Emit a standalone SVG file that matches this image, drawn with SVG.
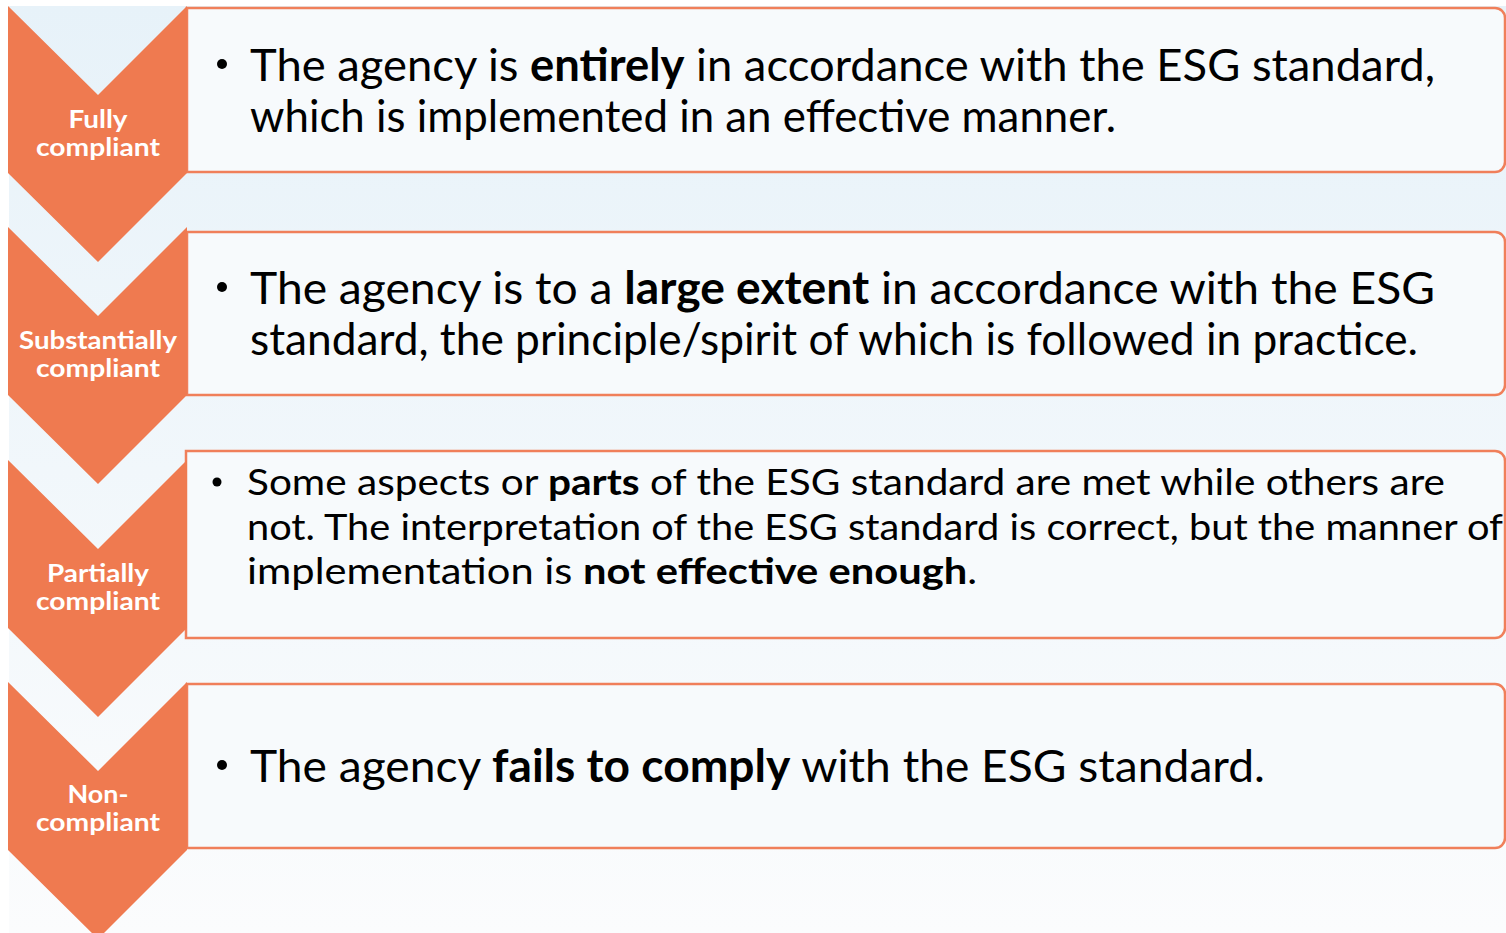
<svg xmlns="http://www.w3.org/2000/svg" width="1506" height="933" viewBox="0 0 1506 933">
<defs>
<linearGradient id="bg" x1="0" y1="0" x2="0" y2="1">
<stop offset="0" stop-color="#e7f2f9"/>
<stop offset="1" stop-color="#fbfcfd"/>
</linearGradient>
<style>
.chev{fill:#ef7a50;}
.box{fill:#f7fafc;stroke:#f07f5a;stroke-width:2.5;}
.lbl{font-family:"Lato","Open Sans",sans-serif;font-weight:700;font-size:24px;fill:#ffffff;text-anchor:middle;}
.t{font-family:"Lato","Open Sans",sans-serif;font-size:45px;fill:#000000;}
.s{font-family:"Lato","Open Sans",sans-serif;font-size:37px;fill:#000000;}
.b{font-weight:700;}
</style>
</defs>
<rect x="0" y="0" width="1506" height="933" fill="#ffffff"/>
<rect x="9" y="6" width="1497" height="927" fill="url(#bg)"/>
<g id="connectors"></g>
<g id="row1">
<path class="box" d="M187,8 H1495 A10,10 0 0 1 1505,18 V162 A10,10 0 0 1 1495,172 H187 Z"/>
<polygon class="chev" points="8,6 98,95 187,6 187,173 98,262 8,173"/>
<text class="lbl" x="98" y="128" textLength="59" lengthAdjust="spacingAndGlyphs">Fully</text>
<text class="lbl" x="98" y="156" textLength="124" lengthAdjust="spacingAndGlyphs">compliant</text>
<circle cx="222" cy="64" r="5"/>
<text class="t" x="250" y="81" textLength="1185" lengthAdjust="spacingAndGlyphs">The agency is <tspan class="b">entirely</tspan> in accordance with the ESG standard,</text>
<text class="t" x="250" y="132" textLength="866" lengthAdjust="spacingAndGlyphs">which is implemented in an effective manner.</text>
</g>
<g id="row2">
<path class="box" d="M187,232 H1495 A10,10 0 0 1 1505,242 V385 A10,10 0 0 1 1495,395 H187 Z"/>
<polygon class="chev" points="8,227 98,316 187,227 187,395 98,484 8,395"/>
<text class="lbl" x="98" y="349" textLength="158" lengthAdjust="spacingAndGlyphs">Substantially</text>
<text class="lbl" x="98" y="377" textLength="124" lengthAdjust="spacingAndGlyphs">compliant</text>
<circle cx="222" cy="287" r="5"/>
<text class="t" x="250" y="304" textLength="1185" lengthAdjust="spacingAndGlyphs">The agency is to a <tspan class="b">large extent</tspan> in accordance with the ESG</text>
<text class="t" x="250" y="355" textLength="1168" lengthAdjust="spacingAndGlyphs">standard, the principle/spirit of which is followed in practice.</text>
</g>
<g id="row3">
<path class="box" d="M186,451 H1495 A10,10 0 0 1 1505,461 V628 A10,10 0 0 1 1495,638 H186 Z"/>
<polygon class="chev" points="8,460 98,549 187,460 187,628 98,717 8,628"/>
<text class="lbl" x="98" y="582" textLength="102" lengthAdjust="spacingAndGlyphs">Partially</text>
<text class="lbl" x="98" y="610" textLength="124" lengthAdjust="spacingAndGlyphs">compliant</text>
<circle cx="217" cy="482" r="4.5"/>
<text class="s" x="247" y="495" textLength="1198" lengthAdjust="spacingAndGlyphs">Some aspects or <tspan class="b">parts</tspan> of the ESG standard are met while others are</text>
<text class="s" x="247" y="540" textLength="1256" lengthAdjust="spacingAndGlyphs">not. The interpretation of the ESG standard is correct, but the manner of</text>
<text class="s" x="247" y="584" textLength="730" lengthAdjust="spacingAndGlyphs">implementation is <tspan class="b">not effective enough</tspan>.</text>
</g>
<g id="row4">
<path class="box" d="M187,684 H1495 A10,10 0 0 1 1505,694 V838 A10,10 0 0 1 1495,848 H187 Z"/>
<polygon class="chev" points="8,682 98,771 187,682 187,850 98,939 8,850"/>
<text class="lbl" x="98" y="803" textLength="61" lengthAdjust="spacingAndGlyphs">Non-</text>
<text class="lbl" x="98" y="831" textLength="124" lengthAdjust="spacingAndGlyphs">compliant</text>
<circle cx="222" cy="765" r="5"/>
<text class="t" x="250" y="782" textLength="1015" lengthAdjust="spacingAndGlyphs">The agency <tspan class="b">fails to comply</tspan> with the ESG standard.</text>
</g>
</svg>
